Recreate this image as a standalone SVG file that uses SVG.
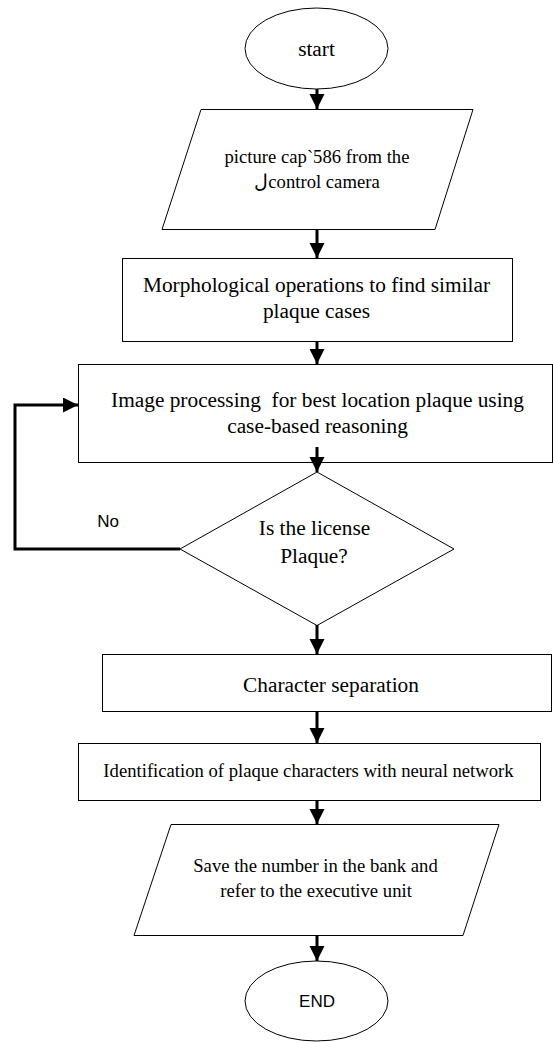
<svg xmlns="http://www.w3.org/2000/svg" width="553" height="1042" viewBox="0 0 553 1042">
<style>
.shape{fill:#fff;stroke:#000;stroke-width:1}
.t{font-family:"Liberation Serif","Times New Roman",serif;fill:#000;text-anchor:middle}
.s{font-family:"Liberation Sans",Arial,sans-serif;fill:#000;text-anchor:middle}
.c{fill:none;stroke:#000;stroke-width:3}
</style>
<defs>
<marker id="ah" markerUnits="userSpaceOnUse" markerWidth="16" markerHeight="16" refX="15" refY="7.5" orient="auto">
<path d="M0,0 L15,7.5 L0,15 z" fill="#000"/>
</marker>
</defs>
<rect width="553" height="1042" fill="#fff"/>
<g id="start">
<ellipse class="shape" cx="316.5" cy="48.5" rx="71.5" ry="40.5"/>
<text class="t" x="316.5" y="56" font-size="21.33">start</text>
</g>
<g id="capture">
<polygon class="shape" points="201,109.5 473,109.5 435,229.5 162,229.5"/>
<text class="t" x="317" y="163" font-size="18.67">picture cap`586 from the</text>
<text class="t" x="317" y="188" font-size="18.67">لcontrol camera</text>
</g>
<g id="morph">
<rect class="shape" x="122.5" y="258.5" width="390" height="83"/>
<text class="t" x="316.5" y="292" font-size="21.33">Morphological operations to find similar</text>
<text class="t" x="316.5" y="318" font-size="21.33">plaque cases</text>
</g>
<g id="imgproc">
<rect class="shape" x="78.5" y="364.5" width="474" height="98"/>
<text class="t" x="317.5" y="407" font-size="21.33" xml:space="preserve">Image processing  for best location plaque using</text>
<text class="t" x="317.5" y="433" font-size="21.33">case-based reasoning</text>
</g>
<g id="decision">
<polygon class="shape" points="317,472 454,549 317,625.5 180,549"/>
<text class="t" x="314.5" y="535" font-size="21.33">Is the license</text>
<text class="t" x="314" y="563" font-size="21.33">Plaque?</text>
</g>
<g id="charsep">
<rect class="shape" x="102.5" y="654.5" width="449" height="57"/>
<text class="t" x="331" y="692" font-size="21.33">Character separation</text>
</g>
<g id="identify">
<rect class="shape" x="78.5" y="743.5" width="462" height="57"/>
<text class="t" x="308.5" y="777" font-size="18.67">Identification of plaque characters with neural network</text>
</g>
<g id="save">
<polygon class="shape" points="171,824.5 499,824.5 463,935.5 134,935.5"/>
<text class="t" x="315.5" y="872" font-size="18.67">Save the number in the bank and</text>
<text class="t" x="316" y="897" font-size="18.67">refer to the executive unit</text>
</g>
<g id="end">
<ellipse class="shape" cx="316.5" cy="1001" rx="71.5" ry="40"/>
<text class="s" x="317" y="1007" font-size="17">END</text>
</g>
<g id="connectors">
<line class="c" x1="317" y1="89" x2="317" y2="109" marker-end="url(#ah)"/>
<line class="c" x1="317" y1="230" x2="317" y2="258" marker-end="url(#ah)"/>
<line class="c" x1="317" y1="342" x2="317" y2="364" marker-end="url(#ah)"/>
<line class="c" x1="317" y1="447" x2="317" y2="472" marker-end="url(#ah)"/>
<polyline class="c" points="180,549 15,549 15,405 78,405" marker-end="url(#ah)"/>
<text class="s" x="108" y="527" font-size="17">No</text>
<line class="c" x1="317" y1="625" x2="317" y2="654" marker-end="url(#ah)"/>
<line class="c" x1="317" y1="712" x2="317" y2="743" marker-end="url(#ah)"/>
<line class="c" x1="317" y1="801" x2="317" y2="824" marker-end="url(#ah)"/>
<line class="c" x1="317" y1="936" x2="317" y2="961" marker-end="url(#ah)"/>
</g>
</svg>
